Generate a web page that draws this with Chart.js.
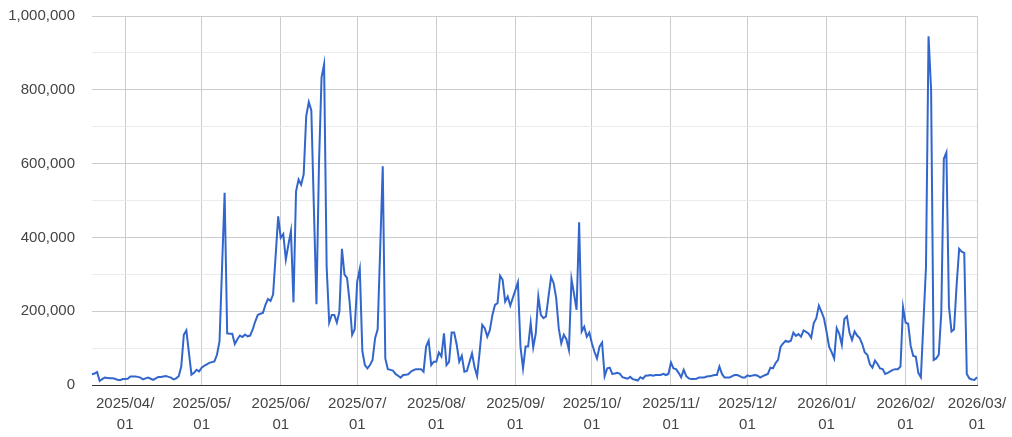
<!DOCTYPE html>
<html>
<head>
<meta charset="utf-8">
<script src="https://cdn.jsdelivr.net/npm/chart.js@4.4.1/dist/chart.umd.min.js"></script>
<style>
  html, body { margin: 0; padding: 0; background: #fff; }
  #wrap { width: 1012px; height: 437px; }
</style>
</head>
<body>
<div id="wrap"><canvas id="chart"></canvas></div>
<script>
const startDate = "2025-03-19";

// daily values, one array per month
const mar2025 = [29000, 31000, 35000, 11000, 16000, 20000, 19000, 18000, 18000, 17000, 14000, 13000, 16000];
const apr2025 = [16000, 17000, 23000, 23000, 23000, 22000, 20000, 15000, 18000, 20000,
  17000, 14000, 18000, 22000, 22000, 23000, 24000, 22000, 20000, 15000,
  18000, 24000, 50000, 136000, 148000, 88000, 28000, 33000, 41000, 37000];
const may2025 = [47000, 52000, 56000, 60000, 62000, 64000, 82000, 118000, 320000, 521000,
  140000, 139000, 139000, 111000, 124000, 134000, 130000, 137000, 132000, 134000,
  151000, 172000, 190000, 193000, 195000, 217000, 233000, 228000, 245000, 350000, 457000];
const jun2025 = [399000, 409000, 340000, 380000, 417000, 224000, 525000, 557000, 543000, 571000,
  729000, 767000, 744000, 480000, 219000, 600000, 833000, 869000, 321000, 169000,
  190000, 190000, 169000, 199000, 369000, 299000, 290000, 226000, 136000, 151000];
const jul2025 = [281000, 315000, 92000, 54000, 45000, 54000, 68000, 127000, 151000, 370000,
  593000, 72000, 43000, 41000, 39000, 30000, 25000, 20000, 27000, 28000,
  29000, 36000, 40000, 43000, 43000, 43000, 36000, 104000, 120000, 54000, 63000];
const aug2025 = [63000, 88000, 77000, 140000, 54000, 63000, 142000, 142000, 109000, 63000,
  79000, 36000, 38000, 62000, 86000, 48000, 24000, 90000, 163000, 154000,
  131000, 149000, 190000, 217000, 222000, 296000, 285000, 226000, 240000, 215000, 236000];
const sep2025 = [257000, 278000, 104000, 45000, 104000, 104000, 168000, 102000, 140000, 240000,
  190000, 181000, 186000, 240000, 293000, 276000, 236000, 154000, 113000, 136000,
  124000, 95000, 287000, 247000, 204000, 441000, 145000, 158000, 131000, 142000];
const oct2025 = [113000, 90000, 72000, 104000, 115000, 24000, 45000, 47000, 30000, 31000,
  33000, 30000, 21000, 19000, 17000, 22000, 16000, 14000, 12000, 21000,
  17000, 25000, 26000, 27000, 25000, 27000, 27000, 27000, 30000, 27000, 30000];
const nov2025 = [61000, 45000, 43000, 33000, 21000, 41000, 24000, 18000, 16000, 16000,
  17000, 20000, 20000, 20000, 23000, 24000, 25000, 27000, 27000, 50000,
  30000, 20000, 20000, 20000, 24000, 27000, 27000, 24000, 20000, 20000];
const dec2025 = [26000, 24000, 26000, 27000, 25000, 20000, 24000, 27000, 30000, 47000,
  45000, 59000, 68000, 104000, 113000, 120000, 117000, 120000, 142000, 133000,
  138000, 131000, 148000, 144000, 139000, 128000, 168000, 181000, 215000, 199000, 181000];
const jan2026 = [145000, 104000, 89000, 72000, 154000, 139000, 109000, 179000, 186000, 142000,
  122000, 145000, 134000, 127000, 111000, 88000, 82000, 56000, 47000, 66000,
  57000, 45000, 43000, 30000, 33000, 37000, 41000, 43000, 43000, 50000, 211000];
const feb2026 = [169000, 166000, 106000, 79000, 77000, 33000, 21000, 170000, 320000, 945000,
  801000, 68000, 72000, 82000, 195000, 613000, 630000, 213000, 145000, 151000,
  270000, 369000, 361000, 358000, 30000, 18000, 15000, 14000];
const mar2026 = [21000];

const values = [].concat(mar2025, apr2025, may2025, jun2025, jul2025, aug2025,
  sep2025, oct2025, nov2025, dec2025, jan2026, feb2026, mar2026);

const yMax = 1000000;
const yStep = 100000;
const yLabelStep = 200000;

function buildDates(count) {
  const dates = [];
  const first = new Date(startDate + "T00:00:00Z").getTime();
  for (let i = 0; i < count; i++) {
    const t = new Date(first + i * 86400000);
    dates.push(
      t.getUTCFullYear() + "/" +
      String(t.getUTCMonth() + 1).padStart(2, "0") + "/" +
      String(t.getUTCDate()).padStart(2, "0")
    );
  }
  return dates;
}

const dates = buildDates(values.length);

Chart.defaults.font.family = "'Liberation Sans', Arial, sans-serif";
Chart.defaults.font.size = 15;
Chart.defaults.color = "#444";

new Chart(document.getElementById("chart"), {
  type: "line",
  data: {
    labels: dates,
    datasets: [{
      data: values,
      borderColor: "#3366cc",
      borderWidth: 2,
      pointRadius: 0,
      tension: 0,
      fill: false
    }]
  },
  options: {
    responsive: true,
    maintainAspectRatio: false,
    animation: false,
    layout: { padding: { top: 16, right: 35, bottom: 0, left: 0 } },
    plugins: {
      legend: { display: false },
      tooltip: { enabled: false }
    },
    scales: {
      x: {
        grid: { color: "#cccccc", drawTicks: false },
        border: { display: true, color: "#333333" },
        ticks: {
          autoSkip: false,
          maxRotation: 0,
          minRotation: 0,
          padding: 8,
          color: "#444",
          font: { size: 15, lineHeight: 1.4 },
          callback: function(value, index) {
            const label = dates[index];
            if (!label.endsWith("/01")) return null;
            return [label.slice(0, 8), label.slice(8)];
          }
        },
        afterFit: function(scale) {
          scale.height = 52;
          scale.paddingLeft = 0;
          scale.paddingRight = 0;
        }
      },
      y: {
        min: 0,
        max: yMax,
        grid: {
          drawTicks: false,
          color: function(ctx) {
            const v = ctx.tick.value;
            if (v === 0) return "#333333";
            return v % yLabelStep === 0 ? "#cccccc" : "#ebebeb";
          }
        },
        border: { display: false },
        ticks: {
          stepSize: yStep,
          padding: 17,
          color: "#444",
          callback: function(value) {
            return value % yLabelStep === 0 ? value.toLocaleString("en-US") : "";
          }
        },
        afterFit: function(scale) {
          scale.width = 92;
          scale.paddingTop = 0;
          scale.paddingBottom = 0;
        }
      }
    }
  }
});
</script>
</body>
</html>
